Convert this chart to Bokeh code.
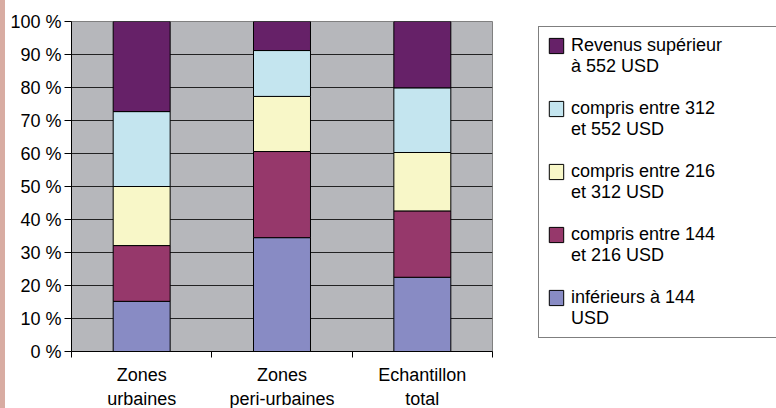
from bokeh.plotting import figure
from bokeh.models import (ColumnDataSource, Range1d, FixedTicker, Legend, LegendItem,
                          PrintfTickFormatter, Div)
from bokeh.layouts import row
from bokeh.embed import file_html
from bokeh.resources import INLINE

categories = ["Zones\nurbaines", "Zones\nperi-urbaines", "Echantillon\ntotal"]
series_names = [["inférieurs à 144", "USD"],
                ["compris entre 144", "et 216 USD"],
                ["compris entre 216", "et 312 USD"],
                ["compris entre 312", "et 552 USD"],
                ["Revenus supérieur", "à 552 USD"]]
s_lt144 = [15.2, 34.5, 22.5]
s_144_216 = [16.9, 26.1, 20.1]
s_216_312 = [17.9, 16.7, 17.7]
s_312_552 = [22.7, 13.9, 19.6]
s_gt552 = [27.3, 8.8, 20.1]
y_ticks = [0, 10, 20, 30, 40, 50, 60, 70, 80, 90, 100]

colors = ["#888bc4", "#96386b", "#f8f7c8", "#c4e5ef", "#662168"]
keys = ["a", "b", "c", "d", "e"]

xpos = [i + 0.5 for i in range(len(categories))]
src = ColumnDataSource(dict(x=xpos, a=s_lt144, b=s_144_216, c=s_216_312,
                            d=s_312_552, e=s_gt552))

FONT = "Liberation Sans"

p = figure(frame_width=421, frame_height=330, output_backend="svg", toolbar_location=None,
           x_range=Range1d(0, 3), y_range=Range1d(0, 100),
           min_border_left=66, min_border_right=284, min_border_top=21,
           min_border_bottom=57)
p.background_fill_color = "#b6b7bb"
p.border_fill_color = "white"
p.outline_line_color = "#808080"
p.outline_line_width = 1

renderers = p.vbar_stack(keys, x="x", width=0.406, source=src, color=colors,
                         line_color="black", line_width=1)
# invisible renderer used only for the legend's continuation lines
ghost = p.vbar(x=[], top=[], width=0.1, fill_alpha=0, line_alpha=0)

# axes
p.yaxis.ticker = FixedTicker(ticks=y_ticks)
p.yaxis.formatter = PrintfTickFormatter(format="%d %%")
p.yaxis.major_label_text_font = FONT
p.yaxis.major_label_text_font_size = "18px"
p.yaxis.major_label_text_color = "black"
p.yaxis.major_tick_out = 7
p.yaxis.major_tick_in = 0
p.yaxis.minor_tick_line_color = None
p.yaxis.axis_line_color = "black"
p.yaxis.major_tick_line_color = "black"
p.yaxis.major_label_standoff = 3

p.xaxis.ticker = FixedTicker(ticks=xpos, minor_ticks=list(range(len(categories) + 1)))
p.xaxis.major_label_overrides = {x: c for x, c in zip(xpos, categories)}
p.xaxis.major_tick_line_color = None
p.xaxis.minor_tick_line_color = "black"
p.xaxis.minor_tick_out = 6
p.xaxis.minor_tick_in = 0
p.xaxis.axis_line_color = "black"
p.xaxis.major_label_text_font = FONT
p.xaxis.major_label_text_font_size = "18px"
p.xaxis.major_label_text_color = "black"
p.xaxis.major_label_standoff = 7

p.xgrid.grid_line_color = None
p.ygrid.ticker = FixedTicker(ticks=y_ticks[1:-1])
p.ygrid.grid_line_color = "#222222"
p.ygrid.grid_line_width = 1

items = []
for i in range(4, -1, -1):
    first, second = series_names[i]
    items.append(LegendItem(label=first, renderers=[renderers[i]]))
    items.append(LegendItem(label=second, renderers=[ghost]))
    if i > 0:
        items.append(LegendItem(label=" ", renderers=[ghost]))

legend = Legend(items=items, location=(46, 13), orientation="vertical",
                label_text_font=FONT, label_text_font_size="18px",
                label_text_color="black", glyph_width=18, glyph_height=19,
                label_standoff=6, spacing=0, padding=8, label_width=230,
                label_height=21,
                border_line_color="black", border_line_width=1,
                background_fill_color="white", background_fill_alpha=1,
                margin=0)
p.add_layout(legend, "right")

strip = Div(width=5, height=408, margin=0, styles={"background-color": "#d8aca2"})
lay = row(strip, p, spacing=0)

open("out.html", "w").write(file_html(lay, INLINE))
